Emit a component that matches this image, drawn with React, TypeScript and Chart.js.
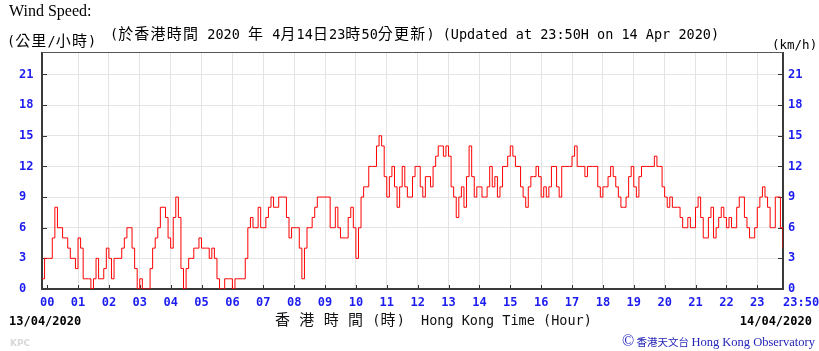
import React, { useEffect, useRef } from "react";
import { Chart, registerables } from "chart.js";

Chart.register(...registerables);

// 5-minute readings starting at 23:50 on 13/04/2020 (minute -10 relative to 00:00)
const startMinute = -10;
const stepMinutes = 5;
const speeds = [
  1, 3, 3, 3, 5, 8, 6, 6, 5, 5,
  4, 3, 3, 2, 5, 4, 1, 1, 1, 0,
  1, 3, 1, 1, 2, 4, 3, 1, 3, 3,
  3, 4, 5, 6, 6, 4, 2, 0, 1, 0,
  0, 0, 2, 4, 5, 6, 8, 8, 7, 5,
  4, 7, 9, 7, 2, 0, 2, 3, 3, 4,
  4, 5, 4, 4, 4, 3, 4, 3, 1, 0,
  0, 1, 1, 1, 0, 1, 1, 1, 1, 3,
  6, 7, 6, 6, 8, 6, 6, 7, 8, 9,
  8, 8, 9, 9, 9, 7, 5, 6, 6, 6,
  4, 1, 4, 6, 6, 7, 8, 9, 9, 9,
  9, 9, 6, 6, 8, 6, 5, 5, 5, 7,
  8, 6, 3, 6, 9, 10, 10, 12, 12, 12,
  14, 15, 14, 11, 9, 11, 12, 10, 8, 10,
  12, 10, 9, 9, 11, 12, 12, 10, 9, 11,
  11, 10, 12, 13, 14, 14, 13, 14, 13, 10,
  9, 7, 9, 10, 8, 11, 14, 11, 9, 10,
  10, 9, 9, 10, 12, 10, 11, 9, 10, 12,
  12, 13, 14, 13, 12, 12, 10, 9, 8, 10,
  11, 11, 12, 11, 9, 10, 9, 10, 12, 12,
  10, 9, 12, 12, 12, 12, 13, 14, 12, 12,
  12, 11, 12, 12, 12, 12, 10, 9, 10, 10,
  11, 12, 11, 10, 9, 8, 8, 9, 11, 12,
  10, 9, 11, 12, 12, 12, 12, 12, 13, 12,
  12, 10, 9, 8, 9, 8, 8, 8, 7, 6,
  6, 7, 6, 6, 8, 9, 7, 5, 5, 7,
  8, 5, 6, 7, 8, 7, 6, 7, 6, 6,
  8, 9, 9, 7, 6, 5, 5, 6, 8, 9,
  10, 9, 8, 6, 6, 9, 9, 6, 4,
];

const hourLabels = [
  "00", "01", "02", "03", "04", "05", "06", "07", "08", "09", "10", "11",
  "12", "13", "14", "15", "16", "17", "18", "19", "20", "21", "22", "23",
];
const endLabel = "23:50";
const endMinute = 1430;
const yTicks = [0, 3, 6, 9, 12, 15, 18, 21];
const yMax = 23.2;

const xTickValues = [...hourLabels.map((h) => Number(h) * 60), endMinute];

const TICK_FONT = { family: "'DejaVu Sans Mono', monospace", size: 12, weight: "bold" as const };
const TICK_COLOR = "#1c1cf0";

const framePlugin = {
  id: "frame",
  beforeDatasetsDraw(chart: any) {
    const { ctx, chartArea: a, scales } = chart;
    ctx.save();
    ctx.strokeStyle = "#333";
    ctx.lineWidth = 1;
    ctx.beginPath();
    yTicks.forEach((v) => {
      const y = Math.round(scales.y.getPixelForValue(v)) + 0.5;
      ctx.moveTo(a.left, y);
      ctx.lineTo(a.left + 5, y);
      ctx.moveTo(a.right, y);
      ctx.lineTo(a.right - 5, y);
    });
    xTickValues.forEach((v) => {
      const x = Math.round(scales.x.getPixelForValue(v)) + 0.5;
      ctx.moveTo(x, a.bottom);
      ctx.lineTo(x, a.bottom - 4);
    });
    ctx.stroke();
    ctx.lineWidth = 2;
    ctx.strokeStyle = "#3a3a3a";
    ctx.beginPath();
    ctx.moveTo(a.left, a.top);
    ctx.lineTo(a.left, a.bottom);
    ctx.lineTo(a.right, a.bottom);
    ctx.lineTo(a.right, a.top);
    ctx.stroke();
    ctx.lineWidth = 1;
    ctx.strokeStyle = "#555";
    ctx.beginPath();
    ctx.moveTo(a.left, a.top + 0.5);
    ctx.lineTo(a.right, a.top + 0.5);
    ctx.stroke();
    ctx.restore();
  },
};

const isCJK = (ch: string) => /[\u3000-\u9fff\uff00-\uffef]/.test(ch);

function MixedText({ text, cjkSize = 15, cjkSpacing = 1.2 }: { text: string; cjkSize?: number; cjkSpacing?: number }) {
  const runs: { cjk: boolean; s: string }[] = [];
  for (const ch of text) {
    const c = isCJK(ch);
    if (runs.length && runs[runs.length - 1].cjk === c) runs[runs.length - 1].s += ch;
    else runs.push({ cjk: c, s: ch });
  }
  return (
    <>
      {runs.map((r, i) =>
        r.cjk ? (
          <span key={i} style={{ fontFamily: "'Noto Sans CJK TC', sans-serif", fontSize: cjkSize, letterSpacing: cjkSpacing }}>
            {r.s}
          </span>
        ) : (
          <span key={i}>{r.s}</span>
        )
      )}
    </>
  );
}

const abs = (left: number, top: number, extra: React.CSSProperties = {}): React.CSSProperties => ({
  position: "absolute",
  left,
  top,
  whiteSpace: "pre",
  lineHeight: "16px",
  margin: 0,
  ...extra,
});

export default function App() {
  const canvasRef = useRef<HTMLCanvasElement | null>(null);

  useEffect(() => {
    const canvas = canvasRef.current;
    if (!canvas) return;
    const points = speeds.map((v, i) => ({ x: startMinute + i * stepMinutes, y: v }));
    const chart = new Chart(canvas, {
      type: "line",
      data: {
        datasets: [
          {
            data: points,
            borderColor: "#ff0000",
            borderWidth: 1,
            pointRadius: 0,
            stepped: true,
            fill: false,
            yAxisID: "y",
          },
        ],
      },
      options: {
        animation: false,
        responsive: false,
        devicePixelRatio: 1,
        layout: { padding: { top: 52, left: 19, right: 0, bottom: 0 } },
        plugins: { legend: { display: false }, tooltip: { enabled: false } },
        scales: {
          x: {
            type: "linear",
            min: startMinute,
            max: endMinute,
            afterBuildTicks: (scale: any) => {
              scale.ticks = xTickValues.map((v) => ({ value: v }));
            },
            afterFit: (scale: any) => {
              scale.height = 62;
              scale.paddingLeft = 0;
              scale.paddingRight = 0;
            },
            border: { display: false },
            grid: {
              drawTicks: false,
              color: (ctx: any) =>
                ctx.tick && (ctx.tick.value === 0 || ctx.tick.value === endMinute) ? "rgba(0,0,0,0)" : "#e4e4e4",
            },
            ticks: {
              autoSkip: false,
              maxRotation: 0,
              minRotation: 0,
              padding: 7,
              color: TICK_COLOR,
              font: TICK_FONT,
              callback: (value: any) => {
                if (value === endMinute) return "     " + endLabel;
                const idx = hourLabels.findIndex((h) => Number(h) * 60 === value);
                return idx >= 0 ? hourLabels[idx] : "";
              },
            },
          },
          y: {
            type: "linear",
            position: "left",
            min: 0,
            max: yMax,
            afterBuildTicks: (scale: any) => {
              scale.ticks = yTicks.map((v) => ({ value: v }));
            },
            afterFit: (scale: any) => {
              scale.width = 23;
              scale.paddingTop = 0;
              scale.paddingBottom = 0;
            },
            border: { display: false },
            grid: {
              drawTicks: false,
              color: (ctx: any) => (ctx.tick && ctx.tick.value === 0 ? "rgba(0,0,0,0)" : "#e4e4e4"),
            },
            ticks: {
              crossAlign: "far",
              padding: 5,
              color: TICK_COLOR,
              font: TICK_FONT,
              callback: (value: any) => String(value),
            },
          },
          y2: {
            type: "linear",
            position: "right",
            min: 0,
            max: yMax,
            afterBuildTicks: (scale: any) => {
              scale.ticks = yTicks.map((v) => ({ value: v }));
            },
            afterFit: (scale: any) => {
              scale.width = 36;
              scale.paddingTop = 0;
              scale.paddingBottom = 0;
            },
            border: { display: false },
            grid: { display: false, drawTicks: false },
            ticks: {
              padding: 5,
              color: TICK_COLOR,
              font: TICK_FONT,
              callback: (value: any) => String(value),
            },
          },
        },
      },
      plugins: [framePlugin],
    });
    return () => chart.destroy();
  }, []);

  const mono = "'DejaVu Sans Mono', monospace";

  return (
    <div style={{ position: "absolute", left: 0, top: 0, width: 819, height: 351, background: "#fff", overflow: "hidden" }}>
      <canvas ref={canvasRef} width={819} height={351} style={{ position: "absolute", left: 0, top: 0, width: 819, height: 351 }} />
      <div style={abs(9, 3, { fontFamily: "'Liberation Serif', serif", fontSize: 16, color: "#000" })}>Wind Speed:</div>
      <div style={abs(7, 32, { fontFamily: mono, fontSize: 13.5, color: "#000" })}>
        <MixedText text="(公里/小時)" />
      </div>
      <div style={abs(110, 25, { fontFamily: mono, fontSize: 13.5, color: "#000" })}>
        <MixedText text="(於香港時間 2020 年 4月14日23時50分更新) (Updated at 23:50H on 14 Apr 2020)" />
      </div>
      <div style={abs(772, 37, { fontFamily: mono, fontSize: 12.5, color: "#000" })}>(km/h)</div>
      <div style={abs(9, 313, { fontFamily: mono, fontSize: 12, fontWeight: "bold", color: "#000" })}>13/04/2020</div>
      <div style={abs(275, 311, { fontFamily: mono, fontSize: 13.5, color: "#111" })}>
        <MixedText text="香 港 時 間 (時)  Hong Kong Time (Hour)" />
      </div>
      <div style={abs(0, 313, { width: 812, textAlign: "right", fontFamily: mono, fontSize: 12, fontWeight: "bold", color: "#000" })}>
        14/04/2020
      </div>
      <div style={abs(622, 333, { fontFamily: "'Liberation Serif', serif", fontSize: 12.5, color: "#2424b8" })}>
        <span style={{ fontSize: 16 }}>©</span>
        <span style={{ fontFamily: "'Noto Sans CJK TC', sans-serif", fontSize: 10.5 }}> 香港天文台 </span>
        <span>Hong Kong Observatory</span>
      </div>
      <div style={abs(10, 335, { fontFamily: "'DejaVu Sans', sans-serif", fontSize: 9, fontWeight: "bold", color: "#d8d8d8" })}>KPC</div>
    </div>
  );
}
